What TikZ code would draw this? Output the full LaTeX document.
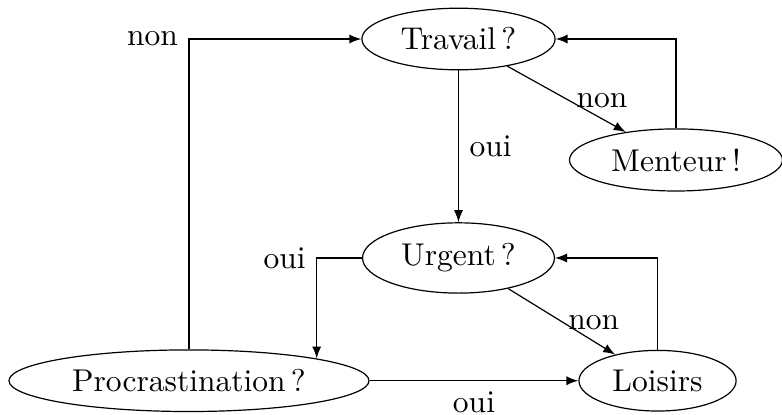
\documentclass[tikz,border=0pt]{standalone}
\usetikzlibrary{shapes.geometric}
\begin{document}
\begin{tikzpicture}[
    font = \fontsize{10.5}{12.6}\selectfont,
    inner sep = 3.5pt,
    etat/.style = {draw, ellipse},
    fleche/.style = {-latex}
  ]
  \useasboundingbox (0,0) rectangle (9.161,4.850);

  % les questions
  \node[etat] (travail) at (5.371,4.393) {Travail\,?};
  \node[etat] (menteur) at (7.919,2.976) {Menteur\,!};
  \node[etat] (urgent) at (5.371,1.828) {Urgent\,?};
  \node[etat] (procr) at (2.214,0.39) {Procrastination\,?};
  \node[etat] (loisirs) at (7.703,0.39) {Loisirs};

  % les reponses
  \draw[fleche] (travail) -- node[right] {oui} (urgent);
  \draw[fleche] (travail) -- node[pos=0.8, above] {non} (menteur);
  \draw[fleche] (menteur.north) |- (travail.east);
  \draw[fleche] (urgent.west) -| node[left] {oui} (procr.north east);
  \draw[fleche] (urgent) -- node[pos=0.8, above] {non} (loisirs);
  \draw[fleche] (loisirs.north) |- (urgent.east);
  \draw[fleche] (procr.north) |- node[left] {non} (travail.west);
  \draw[fleche] (procr) -- node[below] {oui} (loisirs);
\end{tikzpicture}
\end{document}
